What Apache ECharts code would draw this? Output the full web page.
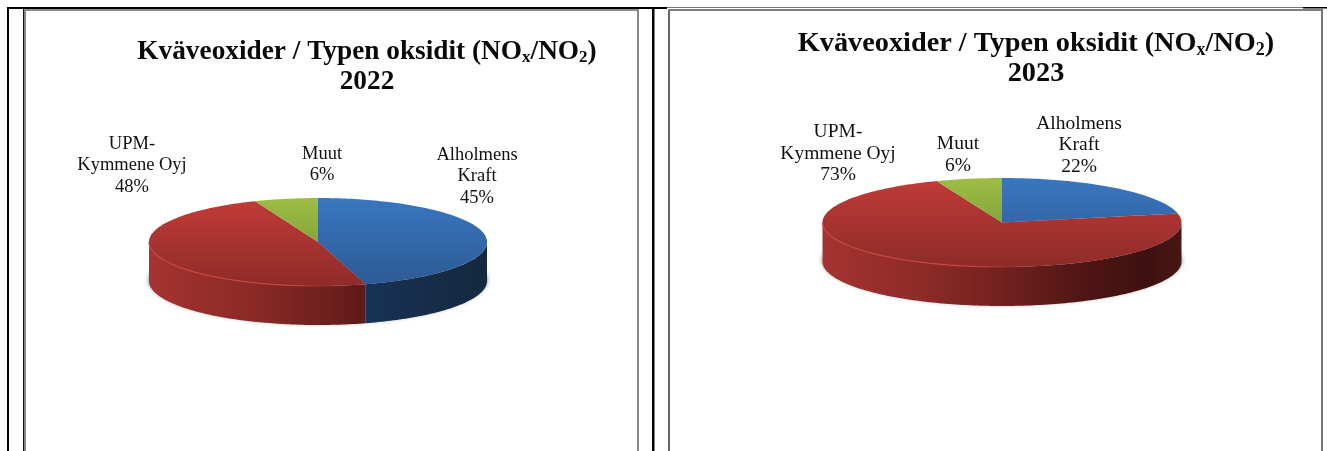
<!DOCTYPE html>
<html><head><meta charset="utf-8">
<style>html,body{margin:0;padding:0;background:#fff}#c{width:1327px;height:451px}</style>
<script src="https://cdn.jsdelivr.net/npm/echarts@6/dist/echarts.min.js"></script>
</head><body><div id="c"></div>
<script>
// ---- data ----
const categories = ['Alholmens\nKraft', 'UPM-\nKymmene Oyj', 'Muut'];
const values2022 = [45, 48, 6];
const values2023 = [22, 73, 6];
const years = ['2022', '2023'];

// ---- style / layout ----
const serif = '"Liberation Serif","Times New Roman",serif';
const topColors = [['#3A76BF', '#2C5A94'], ['#C23B37', '#8E2B29'], ['#9DBD45', '#6F8E2F']];
const wallColors = [
  [[0, '#1E4168'], [0.5, '#1A3A60'], [0.72, '#17304F'], [1, '#14283F']],
  [[0, '#A53331'], [0.3, '#8A2A27'], [0.55, '#6B1F1D'], [0.72, '#4F1614'], [0.9, '#3D1110'], [1, '#481613']],
  [[0, '#6F8E2F'], [1, '#4F6A20']]
];
const rimStops = [
  [[0, 'rgba(60,110,170,0)'], [1, 'rgba(60,110,170,0)']],
  [[0, 'rgba(205,70,62,0.9)'], [0.4, 'rgba(205,70,62,0.8)'], [0.62, 'rgba(170,50,46,0)'], [1, 'rgba(170,50,46,0)']],
  [[0, 'rgba(0,0,0,0)'], [1, 'rgba(0,0,0,0)']]
];
const pies = [
  {values: values2022, cx: 318, cy: 242, a: 169, b: 44, depth: 39, labelSize: 18.5,
   labels: [[477, 176.5], [132, 165.5], [322, 164.5]]},
  {values: values2023, cx: 1002, cy: 222.5, a: 179.5, b: 44.5, depth: 39, labelSize: 19.5,
   labels: [[1079, 145], [838, 153.5], [958, 155]]}
];

function arcPts(p, t0, t1, dy, inset) {
  const pts = [], n = Math.max(2, Math.ceil(Math.abs(t1 - t0) / 0.02));
  for (let i = 0; i <= n; i++) {
    const t = t0 + (t1 - t0) * i / n;
    pts.push([p.cx + (p.a - (inset || 0)) * Math.sin(t), p.cy + dy - (p.b - (inset || 0)) * Math.cos(t)]);
  }
  return pts;
}

function makeSeries(p) {
  const total = p.values.reduce((s, v) => s + v, 0);
  return {
    type: 'custom', coordinateSystem: 'none', silent: true, clip: false,
    data: p.values.map((v, i) => [v, i]),
    renderItem(params, api) {
      const i = params.dataIndex;
      const before = p.values.slice(0, i).reduce((s, v) => s + v, 0);
      const t0 = before / total * 2 * Math.PI;
      const t1 = (before + api.value(0)) / total * 2 * Math.PI;
      const children = [];
      // soft shadow below the disc
      if (i === 0) {
        children.push({
          type: 'polygon', z2: 0,
          shape: {points: arcPts({...p, a: p.a + 1, b: p.b}, 0, 2 * Math.PI, p.depth - 1)},
          style: {fill: '#c8c8c8', shadowBlur: 4, shadowColor: 'rgba(0,0,0,0.3)'}
        });
      }
      // front wall
      const w0 = Math.max(t0, Math.PI / 2), w1 = Math.min(t1, 3 * Math.PI / 2);
      if (w1 > w0) {
        const upper = arcPts(p, w0, w1, 0);
        const lower = arcPts(p, w1, w0, p.depth);
        children.push({
          type: 'polygon', z2: 1,
          shape: {points: upper.concat(lower)},
          style: {
            fill: {type: 'linear', global: true, x: p.cx - p.a, y: 0, x2: p.cx + p.a, y2: 0,
              colorStops: wallColors[i].map(s => ({offset: s[0], color: s[1]}))}
          }
        });
      }
      // top face
      children.push({
        type: 'polygon', z2: 2,
        shape: {points: [[p.cx, p.cy]].concat(arcPts(p, t0, t1, 0))},
        style: {
          fill: {type: 'linear', global: true, x: 0, y: p.cy - p.b, x2: 0, y2: p.cy + p.b,
            colorStops: [{offset: 0, color: topColors[i][0]}, {offset: 1, color: topColors[i][1]}]}
        }
      });
      // light lip along the front rim, fading to the right
      if (w1 > w0) {
        children.push({
          type: 'polyline', z2: 3,
          shape: {points: arcPts(p, w0, w1, 0)},
          style: {
            lineWidth: 1.3, fill: null,
            stroke: {type: 'linear', global: true, x: p.cx - p.a, y: 0, x2: p.cx + p.a, y2: 0,
              colorStops: rimStops[i].map(s => ({offset: s[0], color: s[1]}))}
          }
        });
      }
      // data label
      children.push({
        type: 'text', z2: 4,
        style: {
          text: categories[i] + '\n' + api.value(0) + '%',
          x: p.labels[i][0], y: p.labels[i][1],
          align: 'center', verticalAlign: 'middle',
          font: p.labelSize + 'px ' + serif, lineHeight: 21.5, fill: '#111'
        }
      });
      return {type: 'group', children};
    }
  };
}

function titleOf(year, cx, top, size) {
  return {
    text: '{b|Kväveoxider / Typen oksidit (NO}{s|x}{b|/NO}{s|2}{b|)}\n{b|' + year + '}',
    left: cx, top, textAlign: 'center', padding: 0,
    textStyle: {
      rich: {
        b: {fontFamily: serif, fontWeight: 'bold', fontSize: size, lineHeight: 30, color: '#0a0a0a'},
        s: {fontFamily: serif, fontWeight: 'bold', fontSize: Math.round(size * 0.62), lineHeight: 16, verticalAlign: 'bottom', color: '#0a0a0a'}
      }
    }
  };
}

const frameLines = [
  [7, 7, 2, 444, '#000'], [7, 7, 660, 2, '#000'], [23, 8, 1.5, 443, '#111'], [24.5, 9, 1.5, 442, '#888'],
  [24, 9, 614, 2, '#8c8c8c'], [637, 9, 2, 442, '#888'], [652, 8, 2.5, 443, '#000'],
  [668, 9, 2, 442, '#666'], [668, 9, 655, 2, '#808080'], [1321, 9, 2, 442, '#777'],
  [667, 7, 636, 1, '#777'], [1303, 7, 24, 1.5, '#000']
];

const chart = echarts.init(document.getElementById('c'), null, {renderer: 'canvas'});
chart.setOption({
  animation: false,
  backgroundColor: '#fff',
  title: [titleOf(years[0], 367, 36.5, 27.3), titleOf(years[1], 1036, 29, 28.3)],
  graphic: frameLines.map(l => ({
    type: 'rect', silent: true,
    shape: {x: l[0], y: l[1], width: l[2], height: l[3]},
    style: {fill: l[4]}
  })),
  series: pies.map(makeSeries)
});
</script></body></html>
